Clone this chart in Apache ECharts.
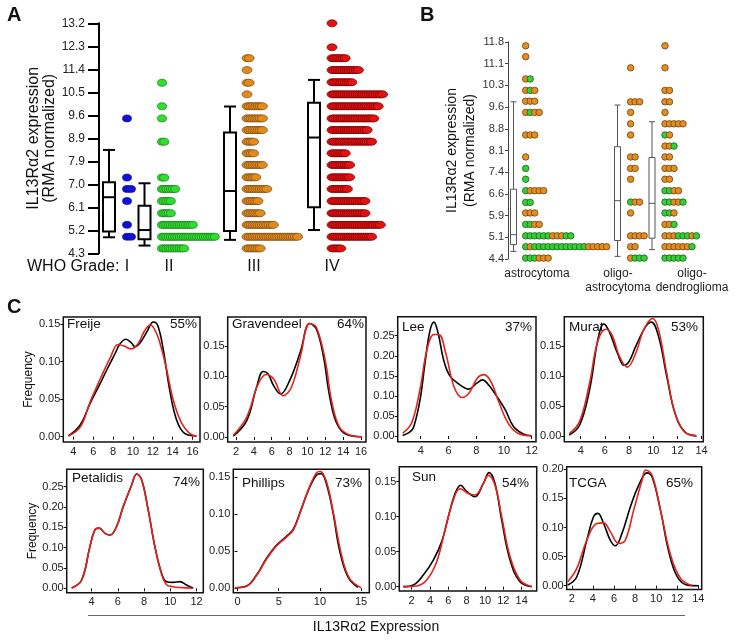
<!DOCTYPE html>
<html lang="en">
<head>
<meta charset="UTF-8">
<title>IL13Ra2 expression</title>
<style>
  * { margin: 0; padding: 0; }
  body { background: #fff; }
  #main { width: 735px; height: 642px; }
</style>
<script src="https://cdn.jsdelivr.net/npm/echarts@6/dist/echarts.min.js"></script>
</head>
<body>
<div id="main"></div>
<script>
// ---------- panel A: WHO grade dot rows [value, number of dots] ----------
var aTickLabels = ['4.3', '5.2', '6.1', '7.0', '7.9', '8.9', '9.6', '10.5', '11.4', '12.3', '13.2'];
var aGrades = ['I', 'II', 'III', 'IV'];
var gradeIRows = [[9.52, 1], [7.23, 1], [6.79, 2], [6.32, 1], [5.40, 1], [4.94, 2]];
var gradeIIRows = [[10.90, 1], [9.99, 1], [9.52, 1], [8.62, 2], [7.23, 2], [6.79, 7], [6.32, 5], [5.85, 5],
    [5.40, 15], [4.94, 25], [4.49, 11]];
var gradeIIIRows = [[11.85, 2], [11.39, 1], [10.90, 2], [10.45, 1], [9.99, 8], [9.52, 8], [9.07, 8], [8.62, 4],
    [8.17, 4], [7.72, 8], [7.24, 5], [6.79, 10], [6.32, 6], [5.85, 7], [5.40, 13], [4.94, 24], [4.49, 7]];
var gradeIVRows = [[13.2, 1], [12.27, 1], [11.85, 7], [11.39, 13], [10.92, 10], [10.45, 24], [9.99, 22], [9.52, 20],
    [9.07, 17], [8.62, 19], [8.17, 7], [7.72, 9], [7.24, 9], [6.79, 8], [6.32, 16], [5.85, 16], [5.40, 23],
    [4.94, 19], [4.49, 5]];
// box stats: min, q1, median, q3, max
var aBoxStats = [[4.92, 5.14, 6.47, 7.05, 8.30], [4.60, 4.84, 5.20, 6.14, 7.01],
    [4.82, 5.16, 6.71, 8.97, 9.98], [5.20, 6.08, 8.78, 10.13, 11.01]];

// ---------- panel B: histology dot rows [value, colours left to right] ----------
var bTickLabels = ['4.4', '5.1', '5.9', '6.6', '7.4', '8.1', '8.8', '9.6', '10.3', '11.1', '11.8'];
var bGroups = ['astrocytoma', 'oligo-\nastrocytoma', 'oligo-\ndendroglioma'];
var astroRows = [[11.67, 'o'], [11.30, 'o'], [10.54, 'og'], [10.15, 'ogo'], [9.78, 'ooo'], [9.40, 'ogoo'],
    [8.63, 'ooo'], [7.88, 'o'], [7.49, 'g'], [7.12, 'g'], [6.73, 'goooo'], [6.33, 'gg'], [5.97, 'ooo'],
    [5.58, 'ggoo'], [5.19, 'ggggggooogg'], [4.82, 'goggggggggggggooooo'], [4.43, 'gggooo']];
var oligoAstroRows = [[10.92, 'o'], [9.76, 'ooo'], [9.40, 'o'], [9.01, 'o'], [8.63, 'o'], [7.88, 'oo'],
    [7.49, 'oo'], [7.12, 'o'], [6.34, 'goo'], [5.97, 'o'], [5.19, 'oooo'], [4.82, 'oo'], [4.43, 'oggg']];
var oligoDendroRows = [[11.67, 'o'], [10.92, 'o'], [10.15, 'oo'], [9.76, 'oo'], [9.40, 'o'], [9.01, 'ooooo'],
    [8.63, 'go'], [8.25, 'oog'], [7.88, 'oo'], [7.49, 'ooo'], [7.12, 'oo'], [6.73, 'ggoo'], [6.34, 'ggoog'],
    [5.97, 'ggo'], [5.58, 'oog'], [5.19, 'ooogggog'], [4.82, 'oooooog'], [4.43, 'ggggg']];
var bBoxStats = [[4.66, 4.89, 5.23, 6.78, 9.76], [4.49, 5.03, 6.39, 8.23, 9.65], [4.72, 5.11, 6.30, 7.86, 9.08]];

// ---------- panel C: density curves [expression, frequency] ----------
var freijeBlack = [[3.5, 0.001], [4.7, 0.016], [5.7, 0.045], [6.7, 0.071], [7.35, 0.089], [8.2, 0.111], [8.7, 0.124],
    [9.3, 0.130], [9.85, 0.125], [10.2, 0.120], [10.7, 0.125], [11.4, 0.140], [12.05, 0.153], [12.5, 0.148],
    [13.05, 0.116], [13.7, 0.062], [14.4, 0.022], [15.2, 0.0045], [16.4, 0.001]];
var freijeRed = [[3.5, 0.0008], [4.7, 0.013], [5.7, 0.047], [6.7, 0.077], [7.7, 0.105], [8.5, 0.123], [9.1, 0.121],
    [9.8, 0.117], [10.5, 0.124], [11.2, 0.142], [11.75, 0.149], [12.3, 0.140], [12.8, 0.121], [13.4, 0.089],
    [14.05, 0.049], [14.9, 0.018], [15.7, 0.0045], [16.4, 0.0005]];
var gravBlack = [[1.7, 0.0016], [3.2, 0.027], [4.3, 0.082], [5.05, 0.108], [5.6, 0.104], [6.2, 0.085], [7.0, 0.071],
    [8.0, 0.093], [9.2, 0.140], [10.25, 0.187], [11.0, 0.178], [11.8, 0.132], [12.5, 0.066], [13.3, 0.022],
    [14.4, 0.004], [16.1, 0.0005]];
var gravRed = [[1.7, 0.003], [3.2, 0.033], [4.5, 0.088], [5.4, 0.103], [6.2, 0.096], [7.3, 0.068], [8.2, 0.082],
    [9.2, 0.132], [10.25, 0.187], [11.0, 0.181], [12.0, 0.126], [12.7, 0.060], [13.6, 0.016], [14.8, 0.003],
    [16.1, 0.0003]];
var leeBlack = [[2.7, 0.001], [3.25, 0.011], [3.5, 0.023], [3.95, 0.09], [4.3, 0.18], [4.65, 0.26], [4.95, 0.284],
    [5.25, 0.257], [5.65, 0.19], [6.1, 0.15], [6.85, 0.127], [7.45, 0.117], [8.05, 0.132], [8.45, 0.14],
    [8.9, 0.127], [9.5, 0.098], [10.1, 0.065], [10.7, 0.023], [11.4, 0.005], [12.0, 0.0005]];
var leeRed = [[2.7, 0.007], [3.35, 0.033], [3.95, 0.117], [4.45, 0.215], [4.95, 0.253], [5.3, 0.253], [5.8, 0.207],
    [6.4, 0.123], [7.0, 0.096], [7.5, 0.108], [8.1, 0.145], [8.55, 0.153], [9.05, 0.136], [9.65, 0.083],
    [10.3, 0.032], [11.0, 0.007], [12.0, 0.0005]];
var muratBlack = [[3.05, 0.0017], [3.9, 0.018], [4.73, 0.077], [5.41, 0.16], [5.9, 0.187], [6.36, 0.174],
    [7.04, 0.138], [7.59, 0.118], [7.99, 0.124], [8.54, 0.149], [9.35, 0.182], [9.84, 0.19], [10.44, 0.166],
    [11.12, 0.099], [11.8, 0.038], [12.6, 0.007], [13.57, 0.0003]];
var muratRed = [[3.05, 0.004], [3.9, 0.024], [4.73, 0.088], [5.41, 0.158], [6.1, 0.178], [6.6, 0.168], [7.2, 0.133],
    [7.86, 0.115], [8.55, 0.138], [9.2, 0.177], [9.95, 0.196], [10.44, 0.177], [11.12, 0.104], [11.8, 0.038],
    [12.6, 0.007], [13.57, 0.0003]];
var petBlack = [[2.48, 0.0008], [3.24, 0.0205], [3.87, 0.1025], [4.25, 0.1435], [4.58, 0.148], [5.02, 0.135],
    [5.4, 0.131], [5.9, 0.152], [6.41, 0.201], [7.05, 0.254], [7.43, 0.281], [7.81, 0.267], [8.31, 0.193],
    [8.82, 0.1025], [9.33, 0.037], [9.71, 0.0164], [10.22, 0.0148], [10.73, 0.0164], [11.23, 0.0082], [11.74, 0.0008]];
var petRed = [[2.48, 0.0008], [3.24, 0.0205], [3.87, 0.1025], [4.25, 0.1435], [4.58, 0.148], [5.02, 0.135],
    [5.4, 0.131], [5.9, 0.152], [6.41, 0.201], [7.05, 0.254], [7.43, 0.281], [7.81, 0.267], [8.31, 0.193],
    [8.82, 0.1025], [9.33, 0.035], [9.71, 0.009], [10.22, 0.004], [10.73, 0.002], [11.74, 0.0003]];
var phillipsBlack = [[-0.32, 0.0005], [1.09, 0.0027], [2.3, 0.0176], [3.5, 0.040], [4.72, 0.058], [5.93, 0.070],
    [6.73, 0.079], [7.54, 0.101], [8.55, 0.131], [9.56, 0.153], [10.16, 0.155], [10.77, 0.142], [11.57, 0.1035],
    [12.38, 0.0515], [13.39, 0.0154], [14.6, 0.0009]];
var phillipsRed = [[-0.32, 0.0004], [1.09, 0.0025], [2.3, 0.017], [3.5, 0.039], [4.72, 0.057], [5.93, 0.069],
    [6.73, 0.078], [7.54, 0.100], [8.55, 0.132], [9.56, 0.156], [10.04, 0.158], [10.77, 0.145], [11.57, 0.106],
    [12.58, 0.047], [13.6, 0.013], [15.0, 0.0005]];
var sunBlack = [[1.09, 0], [2.18, 0.0024], [3.27, 0.0167], [4.36, 0.038], [5.27, 0.064], [6.0, 0.100], [6.73, 0.133],
    [7.35, 0.145], [8.0, 0.136], [8.9, 0.1285], [9.82, 0.1475], [10.44, 0.163], [11.09, 0.1475], [11.82, 0.095],
    [12.73, 0.038], [13.82, 0.007], [15.1, 0]];
var sunRed = [[1.09, 0], [2.55, 0.001], [3.64, 0.0095], [4.73, 0.0357], [5.64, 0.081], [6.55, 0.124], [7.27, 0.140],
    [8.18, 0.133], [8.9, 0.131], [9.82, 0.1475], [10.36, 0.159], [11.09, 0.145], [11.82, 0.100], [12.73, 0.043],
    [13.82, 0.0095], [15.1, 0]];
var tcgaBlack = [[1.62, 0.0011], [2.48, 0.0155], [3.43, 0.0785], [4.06, 0.1186], [4.48, 0.1243], [5.02, 0.107],
    [5.65, 0.0785], [6.13, 0.0688], [6.76, 0.09], [7.56, 0.1358], [8.35, 0.173], [9.14, 0.194], [9.62, 0.187],
    [10.41, 0.130], [11.2, 0.0584], [12.0, 0.0155], [12.95, 0.0011], [14.06, 0]];
var tcgaRed = [[1.62, 0.0069], [2.48, 0.0298], [3.43, 0.0785], [4.38, 0.107], [5.02, 0.108], [5.65, 0.093],
    [6.44, 0.0728], [7.08, 0.0785], [7.87, 0.13], [8.67, 0.1816], [9.0, 0.199], [9.62, 0.19], [10.41, 0.130],
    [11.37, 0.0527], [12.32, 0.0126], [13.43, 0]];
var cNames = ['Freije', 'Gravendeel', 'Lee', 'Murat', 'Petalidis', 'Phillips', 'Sun', 'TCGA'];
var cPercents = ['55%', '64%', '37%', '53%', '74%', '73%', '54%', '65%'];
var cBlack = [freijeBlack, gravBlack, leeBlack, muratBlack, petBlack, phillipsBlack, sunBlack, tcgaBlack];
var cRed = [freijeRed, gravRed, leeRed, muratRed, petRed, phillipsRed, sunRed, tcgaRed];
var cXTicks = [[4, 6, 8, 10, 12, 14, 16], [2, 4, 6, 8, 10, 12, 14, 16], [4, 6, 8, 10, 12], [4, 6, 8, 10, 12, 14],
    [4, 6, 8, 10, 12], [0, 5, 10, 15], [2, 4, 6, 8, 10, 12, 14], [2, 4, 6, 8, 10, 12, 14]];
var cYTicks = [[0, 0.05, 0.10, 0.15], [0, 0.05, 0.10, 0.15], [0, 0.05, 0.10, 0.15, 0.20, 0.25],
    [0, 0.05, 0.10, 0.15], [0, 0.05, 0.10, 0.15, 0.20, 0.25], [0, 0.05, 0.10, 0.15],
    [0, 0.05, 0.10, 0.15], [0, 0.05, 0.10, 0.15, 0.20]];

// ---------- layout ----------
var FONT = 'Liberation Sans, Arial, sans-serif';
var ELLIPSE = 'path://M0,5a5,5 0 1,0 10,0a5,5 0 1,0 -10,0z';
var aGradeX = [28, 70, 155, 233];          // label centres, px from the axis
var aDotStart = [28, 63, 148, 233];        // first dot centre of each grade
var aDotStep = [4, 2.2, 2.2, 2.2];
var aBoxX = [10, 45.5, 131, 215];
var bGroupX = [29, 110, 184];
var bDotStart = [17.7, 122.6, 157];
var bDotStep = 4.5;
var bBoxX = [5.5, 109.5, 144];
var cFrames = [
    { left: 63.3, top: 317, width: 136.7, height: 125, x: [2.98, 16.75], y: [-0.0071, 0.1597] },
    { left: 227.7, top: 317, width: 138.3, height: 125, x: [1.07, 16.56], y: [-0.0082, 0.1978] },
    { left: 397.7, top: 316.7, width: 138.3, height: 125, x: [2.34, 12.31], y: [-0.0142, 0.2975] },
    { left: 564.3, top: 316.7, width: 139, height: 125, x: [2.64, 14.14], y: [-0.0094, 0.199] },
    { left: 66.7, top: 469.3, width: 136.6, height: 123.4, x: [2.10, 12.51], y: [-0.0107, 0.2926] },
    { left: 233.3, top: 469.3, width: 136, height: 123.4, x: [-0.52, 16.0], y: [-0.0063, 0.1609] },
    { left: 399.3, top: 466.7, width: 137.4, height: 124.3, x: [0.65, 15.64], y: [-0.0062, 0.1714] },
    { left: 566.7, top: 466.7, width: 135, height: 122.7, x: [1.52, 14.32], y: [-0.0063, 0.2046] }
];
var cNamePos = [[67, 324], [232, 324], [402, 327], [569, 327], [72, 478], [242, 483], [412, 477], [569, 483]];
var cPctPos = [[197, 324], [364, 324], [532, 327], [698, 327], [200, 482], [362, 483], [529, 483], [693, 483]];

var aTickPos = aTickLabels.map(function (s, i) { return 4.3 + 0.89 * i; });
var bTickPos = bTickLabels.map(function (s, i) { return 4.4 + 0.74 * i; });

function rowsToDots(rows, x0, step) {
    var out = [];
    rows.forEach(function (r) {
        for (var i = 0; i < r[1]; i++) out.push([x0 + i * step, r[0]]);
    });
    return out;
}

var bColors = {
    o: { color: '#e58e1e', borderColor: '#6b4210' },
    g: { color: '#35d035', borderColor: '#1d5e1d' }
};
function patternRowsToDots(rows, x0, step) {
    var out = [];
    rows.forEach(function (r) {
        r[1].split('').forEach(function (c, i) {
            out.push({ value: [x0 + i * step, r[0]], itemStyle: bColors[c] });
        });
    });
    return out;
}

function boxRenderer(boxW, capW, color, lw) {
    return function (params, api) {
        var x = api.value(0);
        var lo = api.coord([x, api.value(1)]);
        var q1 = api.coord([x, api.value(2)]);
        var md = api.coord([x, api.value(3)]);
        var q3 = api.coord([x, api.value(4)]);
        var hi = api.coord([x, api.value(5)]);
        var cx = lo[0];
        var st = { stroke: color, lineWidth: lw, fill: null };
        return {
            type: 'group',
            children: [
                { type: 'line', shape: { x1: cx, y1: hi[1], x2: cx, y2: q3[1] }, style: st },
                { type: 'line', shape: { x1: cx, y1: q1[1], x2: cx, y2: lo[1] }, style: st },
                { type: 'line', shape: { x1: cx - capW / 2, y1: hi[1], x2: cx + capW / 2, y2: hi[1] }, style: st },
                { type: 'line', shape: { x1: cx - capW / 2, y1: lo[1], x2: cx + capW / 2, y2: lo[1] }, style: st },
                { type: 'rect', shape: { x: cx - boxW / 2, y: q3[1], width: boxW, height: q1[1] - q3[1] },
                  style: { stroke: color, lineWidth: lw, fill: '#fff' } },
                { type: 'line', shape: { x1: cx - boxW / 2, y1: md[1], x2: cx + boxW / 2, y2: md[1] }, style: st }
            ]
        };
    };
}

var myChart = echarts.init(document.getElementById('main'));

var grids = [
    { left: 99, top: 23.3, width: 300, height: 230 },
    { left: 508, top: 42, width: 200, height: 217 }
];
var xAxes = [
    { gridIndex: 0, type: 'value', min: 0, max: 300, axisLine: { show: false }, axisTick: { show: false },
      splitLine: { show: false },
      axisLabel: { customValues: aGradeX, fontSize: 16, color: '#111', fontFamily: FONT, margin: 5,
          formatter: function (v) { return aGrades[aGradeX.indexOf(v)]; } } },
    { gridIndex: 1, type: 'value', min: 0, max: 200, axisLine: { show: false }, axisTick: { show: false },
      splitLine: { show: false },
      axisLabel: { customValues: bGroupX, fontSize: 12, lineHeight: 14, color: '#222', fontFamily: FONT, margin: 8,
          formatter: function (v) { return bGroups[bGroupX.indexOf(v)]; } } }
];
var yAxes = [
    { gridIndex: 0, type: 'value', min: 4.3, max: 13.2, splitLine: { show: false },
      axisLine: { show: true, lineStyle: { color: '#000', width: 2 } },
      axisTick: { show: true, length: 11, customValues: aTickPos, lineStyle: { color: '#000', width: 2 } },
      axisLabel: { customValues: aTickPos, fontSize: 12, color: '#222', fontFamily: FONT, margin: 14,
          formatter: function (v) { return aTickLabels[Math.round((v - 4.3) / 0.89)]; } },
      name: 'IL13R\u03b12 expression\n(RMA normalized)', nameLocation: 'middle', nameGap: 36,
      nameTextStyle: { fontSize: 16, lineHeight: 16, color: '#111', fontFamily: FONT } },
    { gridIndex: 1, type: 'value', min: 4.4, max: 11.8, splitLine: { show: false },
      axisLine: { show: true, lineStyle: { color: '#444', width: 1 } },
      axisTick: { show: true, length: 3, customValues: bTickPos, lineStyle: { color: '#444' } },
      axisLabel: { customValues: bTickPos, fontSize: 11, color: '#333', fontFamily: FONT, margin: 4,
          formatter: function (v) { return bTickLabels[Math.round((v - 4.4) / 0.74)]; } },
      name: 'IL13R\u03b12 expression\n(RMA normalized)', nameLocation: 'middle', nameGap: 29,
      nameTextStyle: { fontSize: 14, lineHeight: 18, color: '#111', fontFamily: FONT } }
];

var series = [
    { type: 'scatter', xAxisIndex: 0, yAxisIndex: 0, symbol: ELLIPSE, symbolSize: [9, 7],
      itemStyle: { color: '#1010d8', borderColor: '#00007a', borderWidth: 0.6, opacity: 1 },
      data: rowsToDots(gradeIRows, aDotStart[0], aDotStep[0]) },
    { type: 'scatter', xAxisIndex: 0, yAxisIndex: 0, symbol: ELLIPSE, symbolSize: [9, 7],
      itemStyle: { color: '#2ee02e', borderColor: '#1a7a1a', borderWidth: 0.7, opacity: 1 },
      data: rowsToDots(gradeIIRows, aDotStart[1], aDotStep[1]) },
    { type: 'scatter', xAxisIndex: 0, yAxisIndex: 0, symbol: ELLIPSE, symbolSize: [10, 7],
      itemStyle: { color: '#e38a1c', borderColor: '#7a4a10', borderWidth: 0.7, opacity: 1 },
      data: rowsToDots(gradeIIIRows, aDotStart[2], aDotStep[2]) },
    { type: 'scatter', xAxisIndex: 0, yAxisIndex: 0, symbol: ELLIPSE, symbolSize: [10, 7],
      itemStyle: { color: '#e01212', borderColor: '#7a0000', borderWidth: 0.7, opacity: 1 },
      data: rowsToDots(gradeIVRows, aDotStart[3], aDotStep[3]) },
    { type: 'custom', xAxisIndex: 0, yAxisIndex: 0, renderItem: boxRenderer(12, 12, '#000', 2),
      encode: { x: 0, y: [1, 2, 3, 4, 5] },
      data: aBoxX.map(function (x, i) { return [x].concat(aBoxStats[i]); }) },
    { type: 'scatter', xAxisIndex: 1, yAxisIndex: 1, symbolSize: 6.5,
      itemStyle: { borderWidth: 0.8, opacity: 1 },
      data: patternRowsToDots(astroRows, bDotStart[0], bDotStep)
          .concat(patternRowsToDots(oligoAstroRows, bDotStart[1], bDotStep))
          .concat(patternRowsToDots(oligoDendroRows, bDotStart[2], bDotStep)) },
    { type: 'custom', xAxisIndex: 1, yAxisIndex: 1, renderItem: boxRenderer(6, 6, '#555', 1),
      encode: { x: 0, y: [1, 2, 3, 4, 5] },
      data: bBoxX.map(function (x, i) { return [x].concat(bBoxStats[i]); }) }
];

var graphics = [
    { type: 'text', left: 7, top: 5, style: { text: 'A', fontSize: 20, fontWeight: 'bold', fontFamily: FONT, fill: '#111' } },
    { type: 'text', left: 420, top: 5, style: { text: 'B', fontSize: 20, fontWeight: 'bold', fontFamily: FONT, fill: '#111' } },
    { type: 'text', left: 7, top: 297, style: { text: 'C', fontSize: 20, fontWeight: 'bold', fontFamily: FONT, fill: '#111' } },
    { type: 'text', x: 27, y: 267, style: { text: 'WHO Grade:', fontSize: 16, fontFamily: FONT, fill: '#111',
        align: 'left', verticalAlign: 'middle' } },
    { type: 'line', shape: { x1: 88, y1: 615.5, x2: 685, y2: 615.5 }, style: { stroke: '#666', lineWidth: 1 } },
    { type: 'text', x: 376, y: 627, style: { text: 'IL13R\u03b12 Expression', fontSize: 14, fontFamily: FONT,
        fill: '#111', align: 'center', verticalAlign: 'middle' } }
];

cFrames.forEach(function (f, i) {
    var g = grids.length;
    grids.push({ left: f.left, top: f.top, width: f.width, height: f.height, show: true,
        borderColor: '#111', borderWidth: 1.5 });
    xAxes.push({ gridIndex: g, type: 'value', min: f.x[0], max: f.x[1], splitLine: { show: false },
        axisLine: { show: false },
        axisTick: { show: true, length: 3, customValues: cXTicks[i], lineStyle: { color: '#111' } },
        axisLabel: { customValues: cXTicks[i], fontSize: 11, color: '#222', fontFamily: FONT, margin: 4 } });
    var ya = { gridIndex: g, type: 'value', min: f.y[0], max: f.y[1], splitLine: { show: false },
        axisLine: { show: false },
        axisTick: { show: true, length: 3, customValues: cYTicks[i], lineStyle: { color: '#111' } },
        axisLabel: { customValues: cYTicks[i], fontSize: 11, color: '#222', fontFamily: FONT, margin: 3,
            formatter: function (v) { return v.toFixed(2); } } };
    if (i === 0 || i === 4) {
        ya.name = 'Frequency';
        ya.nameLocation = 'middle';
        ya.nameGap = 27;
        ya.nameTextStyle = { fontSize: 12, color: '#111', fontFamily: FONT };
    }
    yAxes.push(ya);
    series.push({ type: 'line', xAxisIndex: g, yAxisIndex: g, showSymbol: false, smooth: 0.4,
        lineStyle: { color: '#000', width: 1.6 }, data: cBlack[i] });
    series.push({ type: 'line', xAxisIndex: g, yAxisIndex: g, showSymbol: false, smooth: 0.4,
        lineStyle: { color: '#e3231c', width: 1.6 }, data: cRed[i] });
    graphics.push({ type: 'text', x: cNamePos[i][0], y: cNamePos[i][1], style: { text: cNames[i], fontSize: 13.5,
        fontFamily: FONT, fill: '#111', align: 'left', verticalAlign: 'middle' } });
    graphics.push({ type: 'text', x: cPctPos[i][0], y: cPctPos[i][1], style: { text: cPercents[i], fontSize: 13.5,
        fontFamily: FONT, fill: '#111', align: 'right', verticalAlign: 'middle' } });
});

var option = {
    animation: false,
    backgroundColor: '#fff',
    grid: grids,
    xAxis: xAxes,
    yAxis: yAxes,
    series: series,
    graphic: graphics
};
myChart.setOption(option);
</script>
</body>
</html>
